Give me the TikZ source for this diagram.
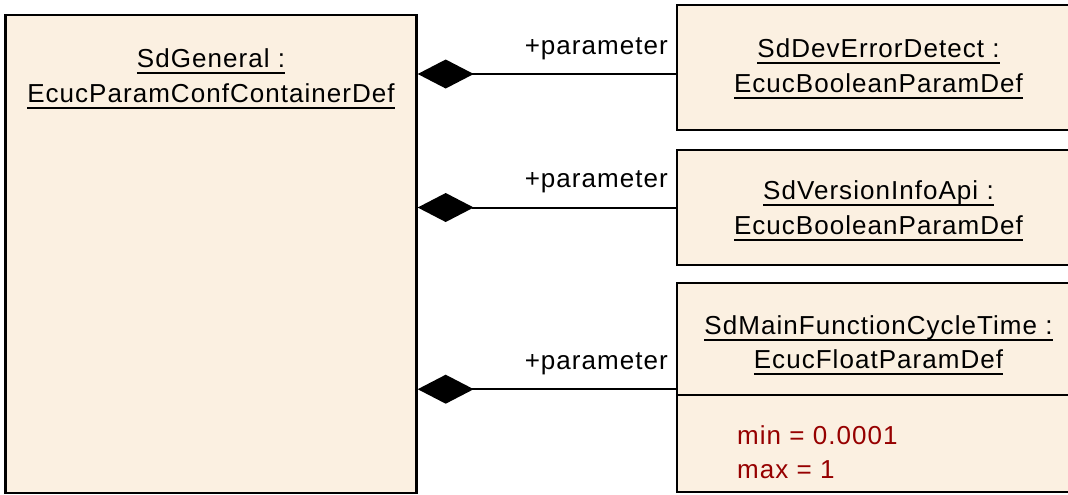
\documentclass[tikz,border=0pt]{standalone}
\usepackage{fontspec}
\setmainfont{Liberation Sans}[LetterSpace=4]
\usepackage{xcolor}
\usetikzlibrary{arrows.meta,positioning}
\definecolor{umlfill}{RGB}{251,240,225}
\definecolor{umlred}{RGB}{150,0,0}
\newcommand{\umlul}[1]{\setbox0=\hbox{#1}\rlap{\vrule height -2.2pt depth 3.2pt width \wd0}\box0}
\newcommand{\umlstrut}{\rule{0pt}{10.5pt}}

\begin{document}
\begin{tikzpicture}[x=0.5pt,y=-0.5pt,
    every node/.style={font=\fontsize{13}{17.2}\selectfont},
    classbox/.style={draw,line width=1.2pt,fill=umlfill,inner sep=0pt},
    title/.style={align=center,inner sep=0pt},
    attr/.style={align=left,inner sep=0pt,text=umlred},
    comp/.style={line width=1pt,-{Diamond[length=28pt,width=14.5pt]}},
    role/.style={anchor=base east,inner sep=0pt}]
            \useasboundingbox (0,0) rectangle (1068,494);

            \node[classbox,minimum width=205.5pt,minimum height=239pt] (gen) at (211,254) {};
            \node[title,below=16.25pt of gen.north] (genname)
                {\umlstrut\umlul{SdGeneral :}\\\umlul{EcucParamConfContainerDef}};

            \node[classbox,minimum width=201.5pt,minimum height=62.5pt] (dev) at (878.5,67.5) {};
            \node[title,below=16.25pt of dev.north] (devname)
                {\umlstrut\umlul{SdDevErrorDetect :}\\\umlul{EcucBooleanParamDef}};

            \node[classbox,minimum width=201.5pt,minimum height=57.5pt] (ver) at (878.5,207.5) {};
            \node[title,below=14.75pt of ver.north] (vername)
                {\umlstrut\umlul{SdVersionInfoApi :}\\\umlul{EcucBooleanParamDef}};

            \node[classbox,minimum width=201.5pt,minimum height=56pt] (cyc) at (878.5,339) {};
            \node[title,below=15.6pt of cyc.north] (cycname)
                {\umlstrut\umlul{SdMainFunctionCycleTime :}\\\umlul{EcucFloatParamDef}};
            \node[classbox,minimum width=201.5pt,minimum height=48.5pt] (cycattr) at (878.5,443.5) {};
            \node[attr,anchor=north west] (cycvals) at ([xshift=30.5pt,yshift=-15.5pt]cycattr.north west)
                {min = 0.0001\\max = 1};

            \draw[comp] (dev.west) ++(0,6.5) coordinate (devend) -- node[role,pos=0,xshift=-3.5pt,yshift=10pt]{+parameter} (devend -| gen.east);
            \draw[comp] (ver.west) -- node[role,pos=0,xshift=-3.5pt,yshift=10pt]{+parameter} (ver.west -| gen.east);
            \draw[comp] (cyc.south west) ++(0,-7) coordinate (cycend) -- node[role,pos=0,xshift=-3.5pt,yshift=10pt]{+parameter} (cycend -| gen.east);
        \end{tikzpicture}
\end{document}
